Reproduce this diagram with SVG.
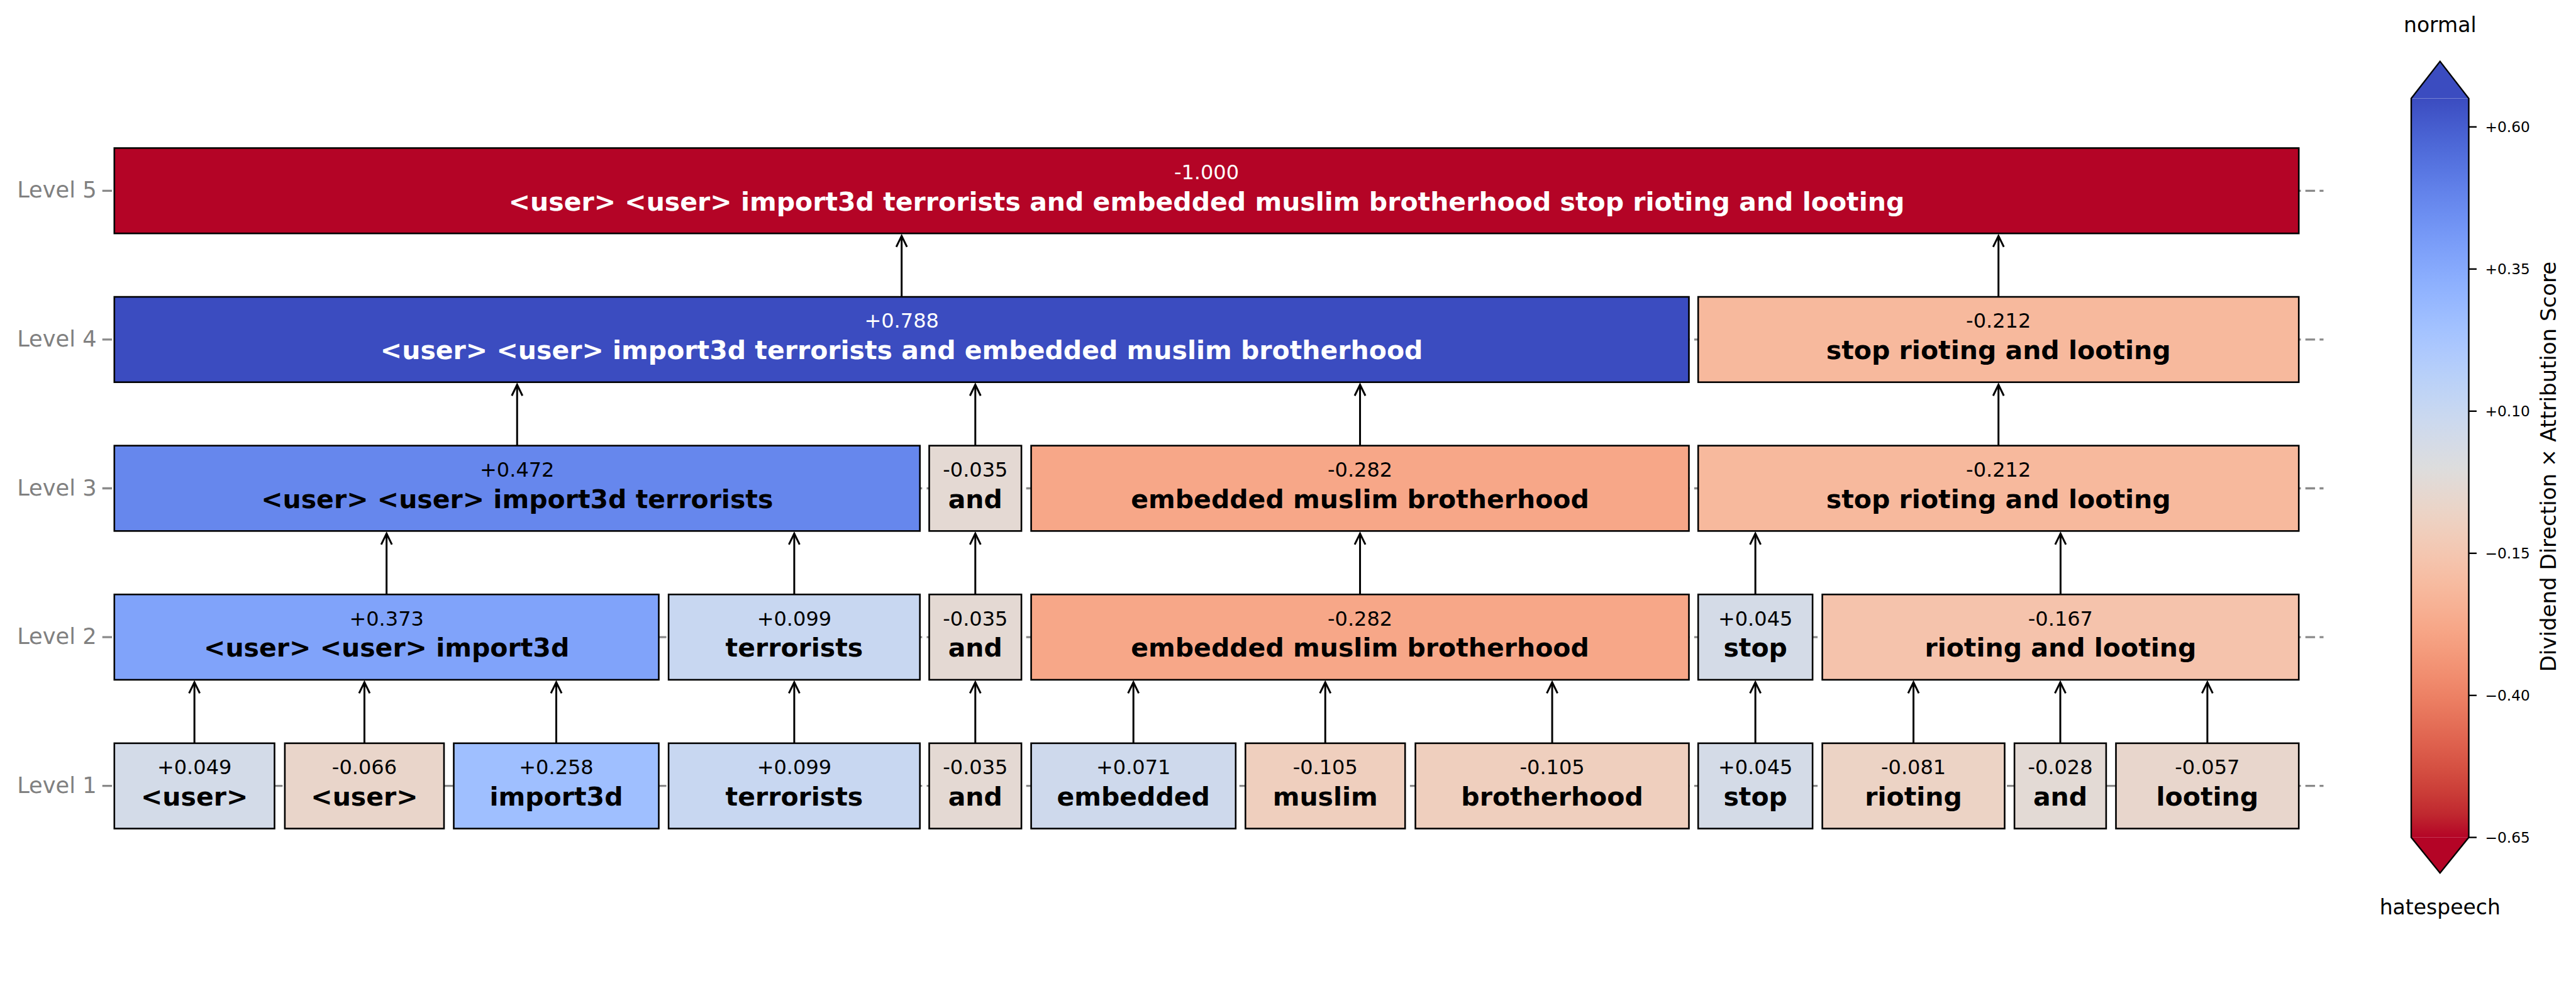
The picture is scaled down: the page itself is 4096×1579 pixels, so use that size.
<svg xmlns="http://www.w3.org/2000/svg" width="4096" height="1579" viewBox="0 0 4096 1579">
<style>
text{font-family:"DejaVu Sans","Liberation Sans",sans-serif}
.n rect{stroke:#000;stroke-width:2.6}
.v{font-size:32px;text-anchor:middle;fill:#000}
.l{font-size:41px;font-weight:bold;text-anchor:middle;fill:#000}
.w .v,.w .l{fill:#fff}
.lvl{font-size:35.2px;fill:#808080;text-anchor:end}
.grid line{stroke:#8a8a8a;stroke-width:3.3;stroke-dasharray:15.4 7.2}
.arr path{stroke:#000;stroke-width:3;fill:none;marker-end:url(#ah)}
.tk{font-size:23.3px;fill:#000}
.cbl{font-size:33px;fill:#000;text-anchor:middle}
</style>
<defs>
<marker id="ah" markerUnits="userSpaceOnUse" markerWidth="20" markerHeight="20" viewBox="0 0 20 20" refX="18" refY="10" orient="auto" overflow="visible">
<path d="M0.5,1.5 L18,10 L0.5,18.5" fill="none" stroke="#000" stroke-width="3"/>
</marker>
<linearGradient id="cw" x1="0" y1="0" x2="0" y2="1">
<stop offset="0" stop-color="rgb(59,76,192)"/>
<stop offset="0.03125" stop-color="rgb(68,90,204)"/>
<stop offset="0.0625" stop-color="rgb(77,104,215)"/>
<stop offset="0.09375" stop-color="rgb(87,117,225)"/>
<stop offset="0.125" stop-color="rgb(98,130,234)"/>
<stop offset="0.15625" stop-color="rgb(108,142,241)"/>
<stop offset="0.1875" stop-color="rgb(119,154,247)"/>
<stop offset="0.21875" stop-color="rgb(130,165,251)"/>
<stop offset="0.25" stop-color="rgb(141,176,254)"/>
<stop offset="0.28125" stop-color="rgb(152,185,255)"/>
<stop offset="0.3125" stop-color="rgb(163,194,255)"/>
<stop offset="0.34375" stop-color="rgb(174,201,253)"/>
<stop offset="0.375" stop-color="rgb(184,208,249)"/>
<stop offset="0.40625" stop-color="rgb(194,213,244)"/>
<stop offset="0.4375" stop-color="rgb(204,217,238)"/>
<stop offset="0.46875" stop-color="rgb(213,219,230)"/>
<stop offset="0.5" stop-color="rgb(221,221,221)"/>
<stop offset="0.53125" stop-color="rgb(229,216,209)"/>
<stop offset="0.5625" stop-color="rgb(236,211,197)"/>
<stop offset="0.59375" stop-color="rgb(241,204,185)"/>
<stop offset="0.625" stop-color="rgb(245,196,173)"/>
<stop offset="0.65625" stop-color="rgb(247,187,160)"/>
<stop offset="0.6875" stop-color="rgb(247,177,148)"/>
<stop offset="0.71875" stop-color="rgb(247,166,135)"/>
<stop offset="0.75" stop-color="rgb(244,154,123)"/>
<stop offset="0.78125" stop-color="rgb(241,141,111)"/>
<stop offset="0.8125" stop-color="rgb(236,127,99)"/>
<stop offset="0.84375" stop-color="rgb(229,112,88)"/>
<stop offset="0.875" stop-color="rgb(222,96,77)"/>
<stop offset="0.90625" stop-color="rgb(213,80,66)"/>
<stop offset="0.9375" stop-color="rgb(203,62,56)"/>
<stop offset="0.96875" stop-color="rgb(192,40,47)"/>
<stop offset="1" stop-color="rgb(180,4,38)"/>
</linearGradient>
</defs>
<rect width="4096" height="1579" fill="#fff"/>

<g id="grid" class="grid">
<line x1="162.7" y1="303.3" x2="3694.5" y2="303.3"/>
<line x1="162.7" y1="539.9" x2="3694.5" y2="539.9"/>
<line x1="162.7" y1="776.5" x2="3694.5" y2="776.5"/>
<line x1="162.7" y1="1013.1" x2="3694.5" y2="1013.1"/>
<line x1="162.7" y1="1249.7" x2="3694.5" y2="1249.7"/>
</g>
<g id="level-labels">
<text class="lvl" x="153.6" y="314.3">Level 5</text>
<text class="lvl" x="153.6" y="550.9">Level 4</text>
<text class="lvl" x="153.6" y="787.5">Level 3</text>
<text class="lvl" x="153.6" y="1024.1">Level 2</text>
<text class="lvl" x="153.6" y="1260.7">Level 1</text>
</g>

<g id="connectors" class="arr">
<path d="M309.15,1181.85V1084.95"/>
<path d="M579.45,1181.85V1084.95"/>
<path d="M884.5,1181.85V1084.95"/>
<path d="M1262.9,1181.85V1084.95"/>
<path d="M1550.8,1181.85V1084.95"/>
<path d="M1802.2,1181.85V1084.95"/>
<path d="M2107.25,1181.85V1084.95"/>
<path d="M2468.05,1181.85V1084.95"/>
<path d="M2791.15,1181.85V1084.95"/>
<path d="M3042.55,1181.85V1084.95"/>
<path d="M3276,1181.85V1084.95"/>
<path d="M3509.85,1181.85V1084.95"/>
<path d="M614.65,945.25V848.35"/>
<path d="M1262.9,945.25V848.35"/>
<path d="M1550.8,945.25V848.35"/>
<path d="M2162.55,945.25V848.35"/>
<path d="M2791.15,945.25V848.35"/>
<path d="M3276.4,945.25V848.35"/>
<path d="M822.25,708.65V611.75"/>
<path d="M1550.8,708.65V611.75"/>
<path d="M2162.55,708.65V611.75"/>
<path d="M3177.7,708.65V611.75"/>
<path d="M1433.65,472.05V375.15"/>
<path d="M3177.7,472.05V375.15"/>
</g>

<g id="L5" class="n w"><rect x="181.8" y="235.45" width="3473.4" height="135.7" fill="#b40426"/><text class="v" x="1918.5" y="284.8">-1.000</text><text class="l" x="1918.5" y="334.5">&lt;user&gt; &lt;user&gt; import3d terrorists and embedded muslim brotherhood stop rioting and looting</text></g>

<g id="L4a" class="n w"><rect x="181.8" y="472.05" width="2503.7" height="135.7" fill="#3b4cc0"/><text class="v" x="1433.65" y="521.4">+0.788</text><text class="l" x="1433.65" y="571.1">&lt;user&gt; &lt;user&gt; import3d terrorists and embedded muslim brotherhood</text></g>
<g id="L4b" class="n"><rect x="2700.2" y="472.05" width="955" height="135.7" fill="#f7b99d"/><text class="v" x="3177.7" y="521.4">-0.212</text><text class="l" x="3177.7" y="571.1">stop rioting and looting</text></g>

<g id="L3a" class="n"><rect x="181.8" y="708.65" width="1280.9" height="135.7" fill="#6687ed"/><text class="v" x="822.25" y="758">+0.472</text><text class="l" x="822.25" y="807.7">&lt;user&gt; &lt;user&gt; import3d terrorists</text></g>
<g id="L3b" class="n"><rect x="1477.5" y="708.65" width="146.6" height="135.7" fill="#e4d9d3"/><text class="v" x="1550.8" y="758">-0.035</text><text class="l" x="1550.8" y="807.7">and</text></g>
<g id="L3c" class="n"><rect x="1639.6" y="708.65" width="1045.9" height="135.7" fill="#f7a788"/><text class="v" x="2162.55" y="758">-0.282</text><text class="l" x="2162.55" y="807.7">embedded muslim brotherhood</text></g>
<g id="L3d" class="n"><rect x="2700.2" y="708.65" width="955" height="135.7" fill="#f7b99d"/><text class="v" x="3177.7" y="758">-0.212</text><text class="l" x="3177.7" y="807.7">stop rioting and looting</text></g>

<g id="L2a" class="n"><rect x="181.8" y="945.25" width="865.7" height="135.7" fill="#80a3fa"/><text class="v" x="614.65" y="994.6">+0.373</text><text class="l" x="614.65" y="1044.3">&lt;user&gt; &lt;user&gt; import3d</text></g>
<g id="L2b" class="n"><rect x="1063.1" y="945.25" width="399.6" height="135.7" fill="#c8d7f1"/><text class="v" x="1262.9" y="994.6">+0.099</text><text class="l" x="1262.9" y="1044.3">terrorists</text></g>
<g id="L2c" class="n"><rect x="1477.5" y="945.25" width="146.6" height="135.7" fill="#e4d9d3"/><text class="v" x="1550.8" y="994.6">-0.035</text><text class="l" x="1550.8" y="1044.3">and</text></g>
<g id="L2d" class="n"><rect x="1639.6" y="945.25" width="1045.9" height="135.7" fill="#f7a788"/><text class="v" x="2162.55" y="994.6">-0.282</text><text class="l" x="2162.55" y="1044.3">embedded muslim brotherhood</text></g>
<g id="L2e" class="n"><rect x="2700.2" y="945.25" width="181.9" height="135.7" fill="#d4dbe7"/><text class="v" x="2791.15" y="994.6">+0.045</text><text class="l" x="2791.15" y="1044.3">stop</text></g>
<g id="L2f" class="n"><rect x="2897.6" y="945.25" width="757.6" height="135.7" fill="#f5c3ac"/><text class="v" x="3276.4" y="994.6">-0.167</text><text class="l" x="3276.4" y="1044.3">rioting and looting</text></g>

<g id="L1-1" class="n"><rect x="181.8" y="1181.85" width="254.7" height="135.7" fill="#d3dbe8"/><text class="v" x="309.15" y="1231.2">+0.049</text><text class="l" x="309.15" y="1280.9">&lt;user&gt;</text></g>
<g id="L1-2" class="n"><rect x="452.9" y="1181.85" width="253.1" height="135.7" fill="#e9d5ca"/><text class="v" x="579.45" y="1231.2">-0.066</text><text class="l" x="579.45" y="1280.9">&lt;user&gt;</text></g>
<g id="L1-3" class="n"><rect x="721.5" y="1181.85" width="326" height="135.7" fill="#9fbfff"/><text class="v" x="884.5" y="1231.2">+0.258</text><text class="l" x="884.5" y="1280.9">import3d</text></g>
<g id="L1-4" class="n"><rect x="1063.1" y="1181.85" width="399.6" height="135.7" fill="#c8d7f1"/><text class="v" x="1262.9" y="1231.2">+0.099</text><text class="l" x="1262.9" y="1280.9">terrorists</text></g>
<g id="L1-5" class="n"><rect x="1477.5" y="1181.85" width="146.6" height="135.7" fill="#e4d9d3"/><text class="v" x="1550.8" y="1231.2">-0.035</text><text class="l" x="1550.8" y="1280.9">and</text></g>
<g id="L1-6" class="n"><rect x="1639.6" y="1181.85" width="325.2" height="135.7" fill="#ced9ec"/><text class="v" x="1802.2" y="1231.2">+0.071</text><text class="l" x="1802.2" y="1280.9">embedded</text></g>
<g id="L1-7" class="n"><rect x="1980.3" y="1181.85" width="253.9" height="135.7" fill="#efcfbe"/><text class="v" x="2107.25" y="1231.2">-0.105</text><text class="l" x="2107.25" y="1280.9">muslim</text></g>
<g id="L1-8" class="n"><rect x="2250.6" y="1181.85" width="434.9" height="135.7" fill="#efcfbe"/><text class="v" x="2468.05" y="1231.2">-0.105</text><text class="l" x="2468.05" y="1280.9">brotherhood</text></g>
<g id="L1-9" class="n"><rect x="2700.2" y="1181.85" width="181.9" height="135.7" fill="#d4dbe7"/><text class="v" x="2791.15" y="1231.2">+0.045</text><text class="l" x="2791.15" y="1280.9">stop</text></g>
<g id="L1-10" class="n"><rect x="2897.6" y="1181.85" width="289.9" height="135.7" fill="#ecd3c5"/><text class="v" x="3042.55" y="1231.2">-0.081</text><text class="l" x="3042.55" y="1280.9">rioting</text></g>
<g id="L1-11" class="n"><rect x="3203.1" y="1181.85" width="145.8" height="135.7" fill="#e3dad5"/><text class="v" x="3276" y="1231.2">-0.028</text><text class="l" x="3276" y="1280.9">and</text></g>
<g id="L1-12" class="n"><rect x="3364.5" y="1181.85" width="290.7" height="135.7" fill="#e8d6cc"/><text class="v" x="3509.85" y="1231.2">-0.057</text><text class="l" x="3509.85" y="1280.9">looting</text></g>

<g id="colorbar">
<path d="M3834,156.6 L3879.8,97.6 L3925.5,156.6 Z" fill="#3b4cc0"/>
<path d="M3834,1331.6 L3879.8,1388.2 L3925.5,1331.6 Z" fill="#b40426"/>
<rect x="3834" y="156.6" width="91.5" height="1175" fill="url(#cw)"/>
<path d="M3834,156.6 L3879.8,97.6 L3925.5,156.6 L3925.5,1331.6 L3879.8,1388.2 L3834,1331.6 Z" fill="none" stroke="#000" stroke-width="2.4"/>
<g stroke="#000" stroke-width="2.4">
<line x1="3925.5" y1="201.8" x2="3938" y2="201.8"/>
<line x1="3925.5" y1="427.8" x2="3938" y2="427.8"/>
<line x1="3925.5" y1="653.8" x2="3938" y2="653.8"/>
<line x1="3925.5" y1="879.8" x2="3938" y2="879.8"/>
<line x1="3925.5" y1="1105.8" x2="3938" y2="1105.8"/>
<line x1="3925.5" y1="1331.6" x2="3938" y2="1331.6"/>
</g>
<text class="tk" x="3951.5" y="210.3">+0.60</text>
<text class="tk" x="3951.5" y="436.3">+0.35</text>
<text class="tk" x="3951.5" y="662.3">+0.10</text>
<text class="tk" x="3951.5" y="888.3">−0.15</text>
<text class="tk" x="3951.5" y="1114.3">−0.40</text>
<text class="tk" x="3951.5" y="1340.1">−0.65</text>
<text class="cbl" x="3879.8" y="51.2">normal</text>
<text class="cbl" x="3879.8" y="1453.6">hatespeech</text>
<text x="4064" y="742" transform="rotate(-90 4064 742)" font-size="34" text-anchor="middle" fill="#000">Dividend Direction × Attribution Score</text>
</g>
</svg>
